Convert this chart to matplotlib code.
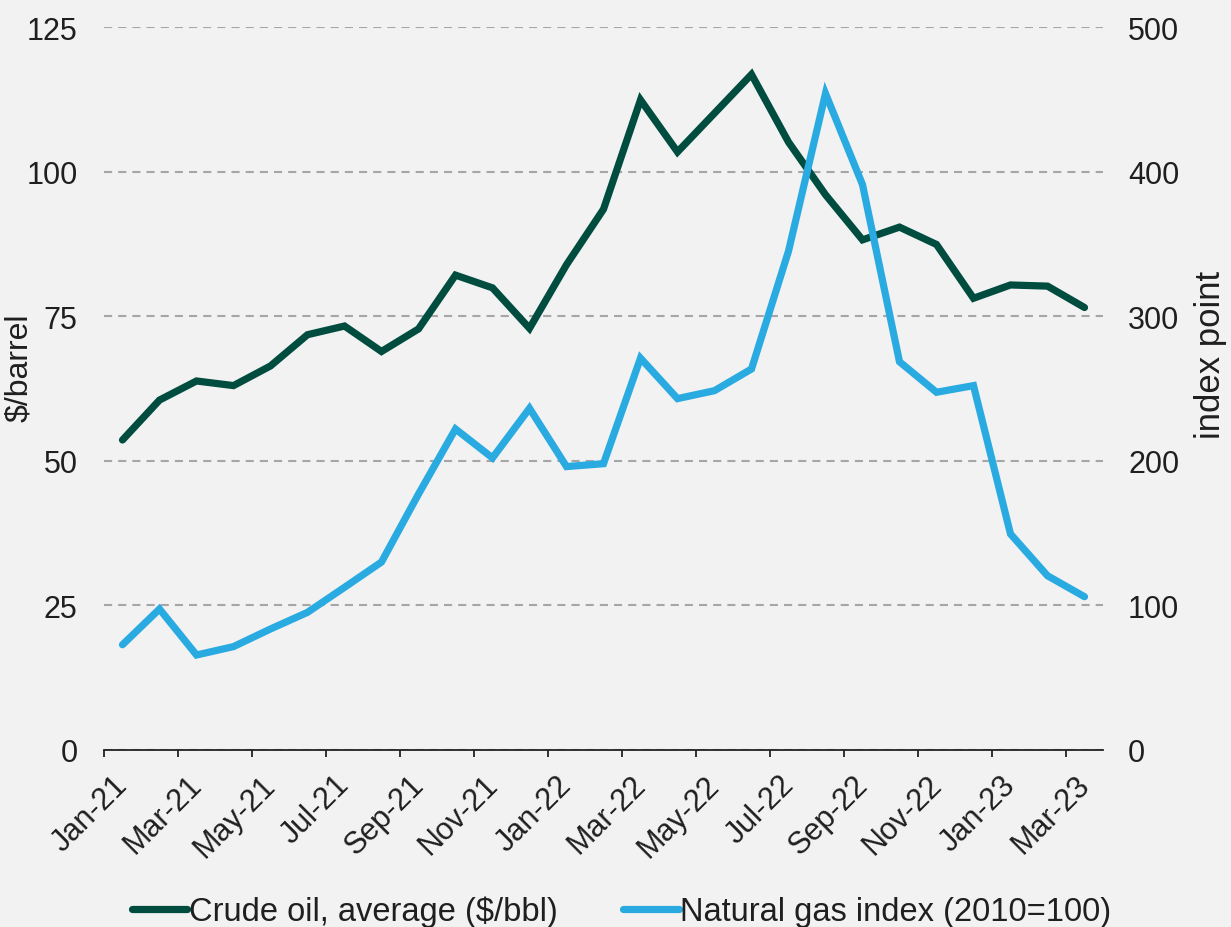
import matplotlib
matplotlib.use("Agg")
import matplotlib.pyplot as plt
import matplotlib.transforms as mtransforms
import numpy as np

months = ["Jan-21", "Feb-21", "Mar-21", "Apr-21", "May-21", "Jun-21", "Jul-21", "Aug-21",
          "Sep-21", "Oct-21", "Nov-21", "Dec-21", "Jan-22", "Feb-22", "Mar-22", "Apr-22",
          "May-22", "Jun-22", "Jul-22", "Aug-22", "Sep-22", "Oct-22", "Nov-22", "Dec-22",
          "Jan-23", "Feb-23", "Mar-23"]

crude_oil = [53.6, 60.5, 63.8, 63.0, 66.4, 71.8, 73.3, 68.9, 72.8, 82.1, 79.9, 72.9,
             83.9, 93.5, 112.4, 103.4, 110.1, 116.8, 105.1, 96.0, 88.2, 90.4, 87.4, 78.1,
             80.4, 80.2, 76.5]

natural_gas = [72.8, 97.5, 65.7, 71.5, 83.7, 95.2, 112.5, 130.0, 177.0, 222.0, 202.0, 236.3,
               196.0, 198.0, 271.0, 243.0, 248.5, 263.5, 345.0, 454.0, 391.0, 268.5, 247.4, 252.0,
               149.4, 120.5, 106.0]

left_ticks = [0, 25, 50, 75, 100, 125]
right_ticks = [0, 100, 200, 300, 400, 500]

plt.rcParams['font.family'] = ['Liberation Sans', 'DejaVu Sans']
TXT = '#1f1f1f'
BG = '#f2f2f2'
OIL = '#004d40'
GAS = '#29abe2'

fig = plt.figure(figsize=(12.31, 9.28), dpi=100, facecolor=BG)
ax = fig.add_axes([104/1231, 1-751/928, (1103-104)/1231, (751-28)/928])
ax.set_facecolor(BG)
ax2 = ax.twinx()

x = np.arange(len(months))
ax.plot(x, crude_oil, color=OIL, lw=5.2, solid_capstyle='round', solid_joinstyle='miter',
        label='Crude oil, average ($/bbl)', zorder=3)
ax2.plot(x, natural_gas, color=GAS, lw=5.2, solid_capstyle='round', solid_joinstyle='miter',
         label='Natural gas index (2010=100)', zorder=3)

ax.set_xlim(-0.5, len(months) - 0.5)
ax.set_ylim(0, 125)
ax2.set_ylim(0, 500)

ax.set_yticks(left_ticks)
ax2.set_yticks(right_ticks)
ax.yaxis.grid(True, color='#a6a6a6', lw=1.5, linestyle=(0, (3.9, 2.9)))
ax.set_axisbelow(True)

for a in (ax, ax2):
    for s in ['top', 'left', 'right', 'bottom']:
        a.spines[s].set_visible(False)
ax.spines['bottom'].set_visible(True)
ax.spines['bottom'].set_color('#222222')
ax.spines['bottom'].set_linewidth(1.3)

ax.tick_params(axis='y', length=0, pad=19, labelsize=22, labelcolor=TXT)
ax2.tick_params(axis='y', length=0, pad=18, labelsize=22, labelcolor=TXT)

ax.set_xticks(x[::2])
ax.set_xticklabels(months[::2], rotation=45, ha='right', va='top',
                   rotation_mode='anchor', fontsize=22, color=TXT)
ax.set_xticks(np.arange(-0.5, len(months) - 0.5, 2), minor=True)
ax.tick_params(axis='x', which='major', length=0, pad=14)
ax.tick_params(axis='x', which='minor', length=5, width=1.3, color='#222222', direction='out')
shift = mtransforms.ScaledTranslation(-0.10, 0, fig.dpi_scale_trans)
for lbl in ax.get_xticklabels():
    lbl.set_transform(lbl.get_transform() + shift)

ax.set_ylabel('$/barrel', fontsize=23, color=TXT, va='center')
ax.yaxis.set_label_coords(-0.085, 0.53)
ax2.set_ylabel('index point', fontsize=25, color=TXT, va='center')
ax2.yaxis.set_label_coords(1.1076, 0.548)

h1, l1 = ax.get_legend_handles_labels()
h2, l2 = ax2.get_legend_handles_labels()
leg = fig.legend(h1 + h2, l1 + l2, loc='center', bbox_to_anchor=(0.505, 0.017), ncol=2,
                 frameon=False, fontsize=23.5, handlelength=1.7, handletextpad=0.05,
                 columnspacing=2.0, labelcolor=TXT)

fig.savefig('out.png', dpi=100, facecolor=BG)
